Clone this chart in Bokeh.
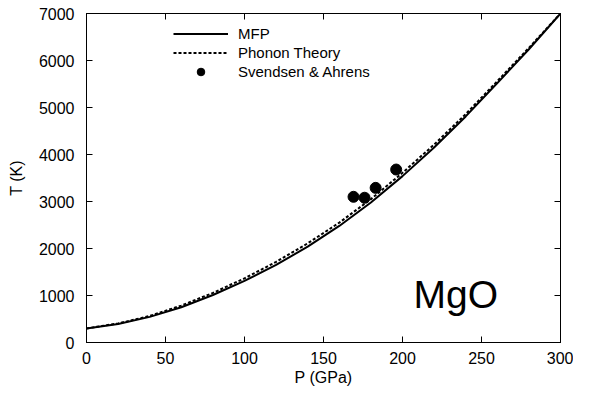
from bokeh.plotting import figure
from bokeh.models import Range1d, LinearAxis, Label, Legend, LegendItem, FixedTicker, Title
from bokeh.embed import file_html
from bokeh.resources import INLINE

# ---- data ----
pressure = [0, 20, 40, 60, 80, 100, 120, 140, 160, 180, 200, 220, 240, 260, 280, 300]
t_mfp = [300, 395, 545, 750, 1010, 1310, 1650, 2040, 2480, 2980, 3540, 4150, 4810, 5520, 6240, 7000]
t_phonon = [300, 405, 565, 785, 1055, 1365, 1715, 2110, 2550, 3050, 3610, 4210, 4860, 5560, 6270, 7000]
exp_p = [169, 176, 183, 196]
exp_t = [3100, 3080, 3290, 3680]
x_ticks = [0, 50, 100, 150, 200, 250, 300]
y_ticks = [0, 1000, 2000, 3000, 4000, 5000, 6000, 7000]

FONT = "Liberation Sans"

p = figure(width=573, height=388, output_backend="svg", toolbar_location=None,
           x_range=Range1d(0, 300), y_range=Range1d(0, 7000),
           min_border_left=86, min_border_right=13, min_border_top=13, min_border_bottom=46)
p.xgrid.visible = False
p.ygrid.visible = False
p.outline_line_color = "black"
p.outline_line_width = 1
p.background_fill_color = "white"
p.border_fill_color = "white"

r1 = p.line(pressure, t_mfp, line_color="black", line_width=2)
r2 = p.line(pressure, t_phonon, line_color="black", line_width=2, line_dash="3 2")
r3 = p.scatter(exp_p, exp_t, marker="circle", size=11, fill_color="black", line_color="black")

def style_axis(ax, ticks, show_labels=True, standoff=12):
    ax.ticker = FixedTicker(ticks=ticks)
    ax.axis_line_color = "black"
    ax.major_tick_line_color = "black"
    ax.major_tick_in = 6
    ax.major_tick_out = 0
    ax.minor_tick_line_color = None
    ax.major_label_text_font = FONT
    if show_labels:
        ax.major_label_text_color = "black"
        ax.major_label_text_font_size = "16px"
        ax.major_label_standoff = standoff
    else:
        ax.major_label_text_color = None
        ax.major_label_text_font_size = "0px"
        ax.major_label_standoff = 0

style_axis(p.xaxis[0], x_ticks, True, 9)
style_axis(p.yaxis[0], y_ticks, True, 12)

# y-axis title
p.yaxis[0].axis_label = "T (K)"
p.yaxis[0].axis_label_standoff = 11
p.yaxis[0].axis_label_text_font = FONT
p.yaxis[0].axis_label_text_font_size = "16px"
p.yaxis[0].axis_label_text_font_style = "normal"
p.yaxis[0].axis_label_text_color = "black"

top_ax = LinearAxis()
style_axis(top_ax, x_ticks, False)
p.add_layout(top_ax, "above")
right_ax = LinearAxis()
style_axis(right_ax, y_ticks, False)
p.add_layout(right_ax, "right")

# x-axis title (slightly right of centre, as in the reference)
p.add_layout(Title(text="P (GPa)", align="center", offset=21, standoff=0,
                   text_font=FONT, text_font_size="16px", text_font_style="normal",
                   text_color="black"), "below")

# material name
p.add_layout(Label(x=207, y=1020, text="MgO", text_align="left", text_baseline="alphabetic",
                   text_font=FONT, text_font_size="39px", text_color="black"))

legend = Legend(items=[LegendItem(label="MFP", renderers=[r1]),
                       LegendItem(label="Phonon Theory", renderers=[r2]),
                       LegendItem(label="Svendsen & Ahrens", renderers=[r3])],
                location=(87, 261), border_line_color=None, background_fill_alpha=0,
                glyph_width=55, glyph_height=19, label_height=19, spacing=0, padding=5,
                margin=0, label_text_font=FONT, label_text_font_size="15px",
                label_text_color="black", label_standoff=10)
p.add_layout(legend)

open("out.html", "w").write(file_html(p, INLINE))
